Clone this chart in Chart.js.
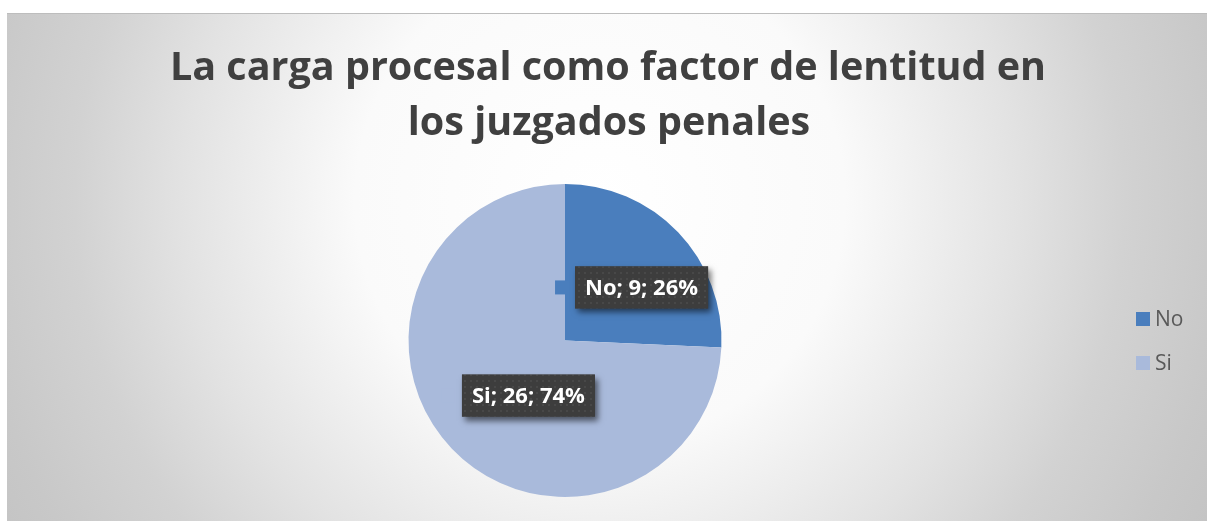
<!DOCTYPE html>
<html><head><meta charset="utf-8">
<script src="https://cdn.jsdelivr.net/npm/chart.js@4.4.1/dist/chart.umd.min.js"></script>
<style>html,body{margin:0;padding:0;background:#fff;overflow:hidden}</style>
</head><body>
<canvas id="c" width="1207" height="521"></canvas>
<script>
const categories = ['No', 'Si'];
const counts = [9, 26];
const percentLabels = ['26%', '74%'];
const titleLines = ['La carga procesal como factor de lentitud en', 'los juzgados penales'];
const sliceColors = ['#4a7ebd', '#a9badb'];

const bgPlugin = {
  id: 'bg',
  beforeDraw(chart) {
    const ctx = chart.ctx, w = chart.width, h = chart.height;
    ctx.save();
    ctx.fillStyle = '#ffffff';
    ctx.fillRect(0, 0, w, h);
    const g = ctx.createRadialGradient(600, 200, 0, 600, 200, 700);
    g.addColorStop(0, '#ffffff');
    g.addColorStop(0.35, '#fafafa');
    g.addColorStop(0.6, '#e2e2e2');
    g.addColorStop(0.75, '#d2d2d2');
    g.addColorStop(0.9, '#c8c8c8');
    g.addColorStop(1, '#c3c3c3');
    ctx.fillStyle = g;
    ctx.fillRect(7, 13, w - 7, h - 13);
    ctx.fillStyle = '#bdbdbd';
    ctx.fillRect(7, 13, w - 7, 1);
    ctx.restore();
  }
};

const titlePlugin = {
  id: 'customTitle',
  afterDraw(chart) {
    const ctx = chart.ctx;
    ctx.save();
    ctx.font = 'bold 39.5px "Open Sans"';
    ctx.fillStyle = '#404040';
    ctx.textAlign = 'center';
    ctx.textBaseline = 'alphabetic';
    ctx.fillText(titleLines[0], 608, 80);
    ctx.fillText(titleLines[1], 609, 135);
    ctx.restore();
  }
};

const legendPlugin = {
  id: 'customLegend',
  afterDraw(chart) {
    const ctx = chart.ctx;
    ctx.save();
    ctx.font = '21px "Open Sans"';
    ctx.textBaseline = 'middle';
    ctx.textAlign = 'left';
    chart.data.labels.forEach((lab, i) => {
      const y = 319 + i * 44;
      ctx.fillStyle = chart.data.datasets[0].backgroundColor[i];
      ctx.fillRect(1136, y - 7, 14, 14);
      ctx.fillStyle = '#595959';
      ctx.fillText(lab, 1155, y + 1);
    });
    ctx.restore();
  }
};

function makePattern(ctx) {
  const pc = document.createElement('canvas');
  pc.width = 6; pc.height = 6;
  const p = pc.getContext('2d');
  p.fillStyle = '#3d3d3d';
  p.fillRect(0, 0, 6, 6);
  p.fillStyle = '#484848';
  p.fillRect(2, 2, 2, 2);
  return ctx.createPattern(pc, 'repeat');
}

const labelPlugin = {
  id: 'dataLabels',
  afterDatasetsDraw(chart) {
    const ctx = chart.ctx;
    const meta = chart.getDatasetMeta(0);
    const pattern = makePattern(ctx);
    meta.data.forEach((arc, i) => {
      const p = arc.getCenterPoint();
      const text = categories[i] + '; ' + counts[i] + '; ' + percentLabels[i];
      ctx.save();
      ctx.font = 'bold 22px "Open Sans"';
      const tw = ctx.measureText(text).width;
      const bw = tw + 20, bh = 42;
      const cx = p.x + 20, cy = p.y + 1;
      ctx.shadowColor = 'rgba(0,0,0,0.55)';
      ctx.shadowBlur = 6;
      ctx.shadowOffsetX = 3;
      ctx.shadowOffsetY = 4;
      ctx.fillStyle = '#3f3f3f';
      ctx.fillRect(cx - bw / 2, cy - bh / 2, bw, bh);
      ctx.shadowColor = 'transparent';
      ctx.fillStyle = pattern;
      ctx.fillRect(cx - bw / 2, cy - bh / 2, bw, bh);
      ctx.fillStyle = sliceColors[i];
      ctx.fillRect(cx - bw / 2 - 20, cy - 7, 13, 14);
      ctx.fillStyle = '#ffffff';
      ctx.textAlign = 'center';
      ctx.textBaseline = 'middle';
      ctx.fillText(text, cx, cy + 1);
      ctx.restore();
    });
  }
};

new Chart(document.getElementById('c'), {
  type: 'pie',
  data: {
    labels: categories,
    datasets: [{
      data: counts,
      backgroundColor: sliceColors,
      borderWidth: 0,
      hoverOffset: 0
    }]
  },
  options: {
    responsive: false,
    animation: false,
    events: [],
    layout: { padding: { top: 184, bottom: 24, left: 0, right: 77 } },
    plugins: {
      title: { display: false },
      legend: { display: false },
      tooltip: { enabled: false }
    }
  },
  plugins: [bgPlugin, labelPlugin, titlePlugin, legendPlugin]
});
</script>
</body></html>
